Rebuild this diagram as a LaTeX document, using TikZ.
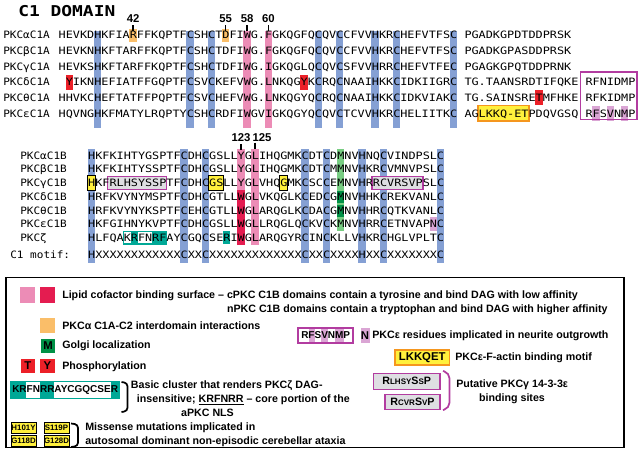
\documentclass[tikz,border=0pt]{standalone}
\usepackage{fontspec}
\setmainfont{Liberation Sans}
\newfontfamily\seqfamily[FakeStretch=1.167]{DejaVu Sans Mono}
\newfontfamily\lblfamily[FakeStretch=1.09]{DejaVu Sans Mono}
\newfontfamily\ttlfamily[FakeStretch=1.2]{DejaVu Sans Mono}
\definecolor{cblue}{RGB}{133,160,212}
\definecolor{cpink}{RGB}{236,140,182}
\definecolor{ccrim}{RGB}{228,28,80}
\definecolor{corange}{RGB}{250,190,105}
\definecolor{cred}{RGB}{236,32,40}
\definecolor{cgreenl}{RGB}{120,205,130}
\definecolor{cgreend}{RGB}{0,145,70}
\definecolor{cteal}{RGB}{0,168,150}
\definecolor{cyellow}{RGB}{255,240,60}
\definecolor{corbd}{RGB}{245,150,30}
\definecolor{cpurp}{RGB}{178,60,160}
\definecolor{clpurp}{RGB}{218,165,212}
\definecolor{cgray}{RGB}{222,222,226}
\newcommand\xa[1]{58.4+7.12*(#1)}
\newcommand\xb[1]{87.9+7.12*(#1)}
\newcommand\smc[1]{{\fontsize{6}{7}\selectfont #1}}
\begin{document}
\begin{tikzpicture}[x=0.75pt,y=-0.75pt,
  seq/.style={font=\seqfamily\fontsize{7.6}{9}\selectfont,anchor=base west,inner sep=0pt},
  rowlbl/.style={font=\lblfamily\fontsize{7.6}{9}\selectfont,anchor=base west,inner sep=0pt},
  num/.style={font=\bfseries\fontsize{8.5}{10}\selectfont,inner sep=0pt},
  numtick/.style={line width=1.1pt},
  leg/.style={font=\bfseries\fontsize{8}{9.6}\selectfont,anchor=west,inner sep=0pt},
  legsm/.style={font=\bfseries\fontsize{7.5}{9}\selectfont,inner sep=0pt},
  mutbox/.style={draw=black,line width=0.6pt,fill=cyellow,inner sep=0pt,minimum width=18.8pt,minimum height=8.2pt,font=\bfseries\fontsize{5.9}{6.5}\selectfont},
  sqlet/.style={font=\bfseries\fontsize{8.5}{10}\selectfont,inner sep=0pt},
  brk/.style={line width=1.3pt,rounded corners=2.5pt}
]
\useasboundingbox (0,0) rectangle (640,455);

% ---------------- C1A highlights ----------------
\foreach \c in {5,18,21,36,39,44,47,55}
  \fill[cblue] ({\xa{\c}-0.2},31) rectangle ({\xa{\c+1}+0.2},128);
\foreach \c in {26,29}
  \fill[cpink] ({\xa{\c}-0.2},31) rectangle ({\xa{\c+1}+0.2},128);
\foreach \c in {10,23}
  \fill[corange] ({\xa{\c}-0.2},28.5) rectangle ({\xa{\c+1}+0.2},41.5);
\fill[cred] ({\xa{1}},74.5) rectangle ({\xa{2}},89.8);
\fill[cred] ({\xa{34}},74.5) rectangle ({\xa{35}},89.8);
\fill[cred] ({\xa{67}},89.5) rectangle ({\xa{68}},104.5);
\foreach \c in {75,77,79}
  \fill[clpurp] ({\xa{\c}},106) rectangle ({\xa{\c+1}},120.5);
\draw[cpurp,line width=1pt] (580.5,72) rectangle (637,119.5);
\draw[corbd,fill=cyellow,line width=1.1pt] ({\xa{59}-0.5},105.5) rectangle ({\xa{66}+0.5},121);

% ---------------- C1B highlights ----------------
\foreach \c in {0,13,16,30,33,38,41,49}
  \fill[cblue] ({\xb{\c}-0.2},149) rectangle ({\xb{\c+1}+0.2},262.5);
\fill[cpink] ({\xb{21}-0.2},148.5) rectangle ({\xb{22}+0.2},189.8);
\fill[ccrim] ({\xb{21}-0.2},189.8) rectangle ({\xb{22}+0.2},244.5);
\fill[cpink] ({\xb{23}-0.2},148.5) rectangle ({\xb{24}+0.2},244.5);
\fill[cgreenl] ({\xb{35}},149) rectangle ({\xb{36}},230.8);
\fill[cgreend] ({\xb{35}},190.5) rectangle ({\xb{36}},202.5);
\fill[cgreend] ({\xb{35}},204.5) rectangle ({\xb{36}},217);
\fill[clpurp] ({\xb{48}},217.2) rectangle ({\xb{49}},230.8);
\foreach \a/\b in {0/1,17/19,27/28}
  \draw[fill=cyellow,line width=0.6pt] ({\xb{\a}-0.3},175.2) rectangle ({\xb{\b}+0.3},190.4);
\draw[cpurp,fill=cgray,line width=1.1pt] ({\xb{3}-1.5},176.6) rectangle ({\xb{11}+0.3},189.4);
\draw[cpurp,fill=cgray,line width=1.1pt] ({\xb{40}-0.5},176.6) rectangle ({\xb{47}+0.5},189.4);
\draw[cteal,fill=white,line width=1.1pt] ({\xb{5}},231.3) rectangle ({\xb{11}},244.2);
\fill[cteal] ({\xb{6}},231.3) rectangle ({\xb{7}},244.2);
\fill[cteal] ({\xb{9}},231.3) rectangle ({\xb{11}},244.2);
\fill[cteal] ({\xb{19}},231.3) rectangle ({\xb{20}},244.2);

% ---------------- title & position labels ----------------
\node[font=\ttlfamily\bfseries\fontsize{11.2}{13}\selectfont,anchor=base west,inner sep=0pt] (title) at (18,16.5) {C1 DOMAIN};
\node[num] (n42) at ({\xa{10.5}},19) {42};
\node[num] (n55) at ({\xa{23.5}},19) {55};
\node[num] (n58) at ({\xa{26.5}},19) {58};
\node[num] (n60) at ({\xa{29.5}},19) {60};
\foreach \n in {n42,n55,n58,n60}
  \draw[numtick] ([yshift=-1.6pt]\n.south) -- ++(0,6);
\node[num] (n123) at ({\xb{21.5}},137.8) {123};
\node[num,anchor=west] (n125) at ({\xb{21.5}+11.3},137.8) {125};
\coordinate (t125) at ({\xb{23.5}},142.5);
\draw[numtick] ([yshift=-1.6pt]n123.south) -- ++(0,6);
\draw[numtick] (t125) -- ++(0,6);

% ---------------- C1A sequences ----------------
\node[rowlbl] (la1) at (3,38.7) {PKCαC1A};
\node[seq] (sa1) at ({\xa{0}},38.7) {HEVKDHKFIARFFKQPTFCSHCTDFIWG.FGKQGFQCQVCCFVVHKRCHEFVTFSC};
\node[seq] (ta1) at ({\xa{57}},38.7) {PGADKGPDTDDPRSK};
\node[rowlbl] (la2) at (3,54.4) {PKCβC1A};
\node[seq] (sa2) at ({\xa{0}},54.4) {HEVKNHKFTARFFKQPTFCSHCTDFIWG.FGKQGFQCQVCCFVVHKRCHEFVTFSC};
\node[seq] (ta2) at ({\xa{57}},54.4) {PGADKGPASDDPRSK};
\node[rowlbl] (la3) at (3,70.1) {PKCγC1A};
\node[seq] (sa3) at ({\xa{0}},70.1) {HEVKSHKFTARFFKQPTFCSHCTDFIWG.IGKQGLQCQVCSFVVHRRCHEFVTFEC};
\node[seq] (ta3) at ({\xa{57}},70.1) {PGAGKGPQTDDPRNK};
\node[rowlbl] (la4) at (3,85.8) {PKCδC1A};
\node[seq] (sa4) at ({\xa{1}},85.8) {YIKNHEFIATFFGQPTFCSVCKEFVWG.LNKQGYKCRQCNAAIHKKCIDKIIGRC};
\node[seq] (ta4) at ({\xa{57}},85.8) {TG.TAANSRDTIFQKE};
\node[seq] (ua4) at ({\xa{74}},85.8) {RFNIDMP};
\node[rowlbl] (la5) at (3,101.5) {PKCθC1A};
\node[seq] (sa5) at ({\xa{0}},101.5) {HHVKCHEFTATFFPQPTFCSVCHEFVWG.LNKQGYQCRQCNAAIHKKCIDKVIAKC};
\node[seq] (ta5) at ({\xa{57}},101.5) {TG.SAINSRETMFHKE};
\node[seq] (ua5) at ({\xa{74}},101.5) {RFKIDMP};
\node[rowlbl] (la6) at (3,117.2) {PKCεC1A};
\node[seq] (sa6) at ({\xa{0}},117.2) {HQVNGHKFMATYLRQPTYCSHCRDFIWGVIGKQGYQCQVCTCVVHKRCHELIITKC};
\node[seq] (ta6) at ({\xa{57}},117.2) {AGLKKQ-ETPDQVGSQ};
\node[seq] (ua6) at ({\xa{74}},117.2) {RFSVNMP};

% ---------------- C1B sequences ----------------
\node[rowlbl] (lb1) at (20,159.2) {PKCαC1B};
\node[seq] (sb1) at ({\xb{0}},159.2) {HKFKIHTYGSPTFCDHCGSLLYGLIHQGMKCDTCDMNVHNQCVINDPSLC};
\node[rowlbl] (lb2) at (20,172.9) {PKCβC1B};
\node[seq] (sb2) at ({\xb{0}},172.9) {HKFKIHTYSSPTFCDHCGSLLYGLIHQGMKCDTCMMNVHKRCVMNVPSLC};
\node[rowlbl] (lb3) at (20,186.6) {PKCγC1B};
\node[seq] (sb3a) at ({\xb{0}},186.6) {HKF};
\node[seq] (sb3b) at ({\xb{3}},186.6) {RLHSYSSP};
\node[seq] (sb3c) at ({\xb{11}},186.6) {TFCDHCGSLLYGLVHQGMKCSCCEMNVHR};
\node[seq] (sb3d) at ({\xb{40}},186.6) {RCVRSVP};
\node[seq] (sb3e) at ({\xb{47}},186.6) {SLC};
\node[rowlbl] (lb4) at (20,200.3) {PKCδC1B};
\node[seq] (sb4) at ({\xb{0}},200.3) {HRFKVYNYMSPTFCDHCGTLLWGLVKQGLKCEDCGMNVHHKCREKVANLC};
\node[rowlbl] (lb5) at (20,214) {PKCθC1B};
\node[seq] (sb5) at ({\xb{0}},214) {HRFKVYNYKSPTFCEHCGTLLWGLARQGLKCDACGMNVHHRCQTKVANLC};
\node[rowlbl] (lb6) at (20,227.7) {PKCεC1B};
\node[seq] (sb6) at ({\xb{0}},227.7) {HKFGIHNYKVPTFCDHCGSLLWGLLRQGLQCKVCKMNVHRRCETNVAPNC};
\node[rowlbl] (lb7) at (20,241.4) {PKCζ};
\node[seq] (sb7) at ({\xb{0}},241.4) {HLFQAKRFNRFAYCGQCSERIWGLARQGYRCINCKLLVHKRCHGLVPLTC};
\node[rowlbl] (lb8) at (10,258.7) {C1 motif:};
\node[seq] (sb8) at ({\xb{0}},258.7) {HXXXXXXXXXXXXCXXCXXXXXXXXXXXXXCXXCXXXXHXXCXXXXXXXC};

% ---------------- legend ----------------
\draw[line width=1pt] (6,277.5) rectangle (624,447.5);
\fill[cpink] (20,287) rectangle (35,303);
\fill[ccrim] (40,287) rectangle (55,303);
\node[leg] (l1) at (62,296) {Lipid cofactor binding surface – cPKC C1B domains contain a tyrosine and bind DAG with low affinity};
\node[leg] (l2) at (62,310) {\phantom{Lipid cofactor binding surface – }nPKC C1B domains contain a tryptophan and bind DAG with higher affinity};
\fill[corange] (40,318) rectangle (55,333);
\node[leg] (l3) at (62,326) {PKCα C1A-C2 interdomain interactions};
\fill[cgreend] (41,339) rectangle (55,353);
\node[sqlet] (gm) at (48,346) {M};
\node[leg] (l4) at (62,346) {Golgi localization};
\fill[cred] (20.7,359) rectangle (35,373);
\fill[cred] (40,359) rectangle (55,373);
\node[sqlet] (pt) at (27.85,366) {T};
\node[sqlet] (py) at (47.5,366) {Y};
\node[leg] (l5) at (62,366.5) {Phosphorylation};

% basic cluster
\fill[cteal] (11,381.5) rectangle (26.4,398.5);
\fill[cteal] (39.8,381.5) rectangle (54.2,398.5);
\fill[cteal] (111.2,381.5) rectangle (119.5,398.5);
\draw[cteal,line width=1pt] (11,381.5) rectangle (119.5,398.5);
\node[legsm,anchor=west] (kr) at (12,390) {KRFNRRAYCGQCSER};
\draw[brk] (121.5,382) -- (127.5,383) -- (127.5,411) -- (121.5,412);
\node[leg] (l6) at (130.7,386) {Basic cluster that renders PKCζ DAG-};
\node[leg] (l7) at (136.7,400) {insensitive; \underline{KRFNRR} – core portion of the};
\node[leg,anchor=center] (l8) at (207.5,413) {aPKC NLS};

% mutations
\node[mutbox] (m1) at (23.5,427.7) {H101Y};
\node[mutbox] (m2) at (56.5,427.7) {S119P};
\node[mutbox] (m3) at (23.5,440.7) {G118D};
\node[mutbox] (m4) at (56.5,440.7) {G128D};
\draw[brk] (71,423.5) -- (78,424.5) -- (78,446) -- (71,447);
\node[leg] (l9) at (85,427.7) {Missense mutations implicated in};
\node[leg] (l10) at (85,441.5) {autosomal dominant non-episodic cerebellar ataxia};

% right column
\foreach \a/\b in {308.5/314.6,321.3/328,335.2/343.5}
  \fill[clpurp] (\a,329) rectangle (\b,342);
\node[legsm,draw=cpurp,line width=1.2pt,minimum width=41.25pt,minimum height=11.25pt] (rfs) at (325.7,335.5) {RFSVNMP};
\fill[clpurp] (360.5,328) rectangle (369.5,343);
\node[sqlet] (nn) at (365,335.5) {N};
\node[leg] (r1) at (372,336) {PKCε residues implicated in neurite outgrowth};
\node[font=\bfseries\fontsize{8.5}{10}\selectfont,draw=corbd,fill=cyellow,line width=1.1pt,minimum width=40.7pt,minimum height=11.25pt,inner sep=0pt] (lk) at (422.2,357.5) {LKKQET};
\node[leg] (r2) at (455,357.3) {PKCε-F-actin binding motif};
\node[font=\bfseries\fontsize{8}{9.6}\selectfont,draw=cpurp,fill=cgray,line width=1.2pt,minimum width=50pt,minimum height=12pt,inner sep=0pt] (bs1) at (406.7,381.3) {R\smc{LHSY}S\smc{S}P};
\node[font=\bfseries\fontsize{8}{9.6}\selectfont,draw=cpurp,fill=cgray,line width=1.2pt,minimum width=41.25pt,minimum height=11.25pt,inner sep=0pt] (bs2) at (412.5,401.8) {R\smc{CVR}S\smc{V}P};
\draw[brk,cpurp,rounded corners=4pt] (443,371) -- (449.5,373) -- (449.5,408) -- (443,410);
\node[leg] (r3) at (456,385) {Putative PKCγ 14-3-3ε};
\node[leg,anchor=center] (r4) at (512,398.5) {binding sites};
\end{tikzpicture}
\end{document}
